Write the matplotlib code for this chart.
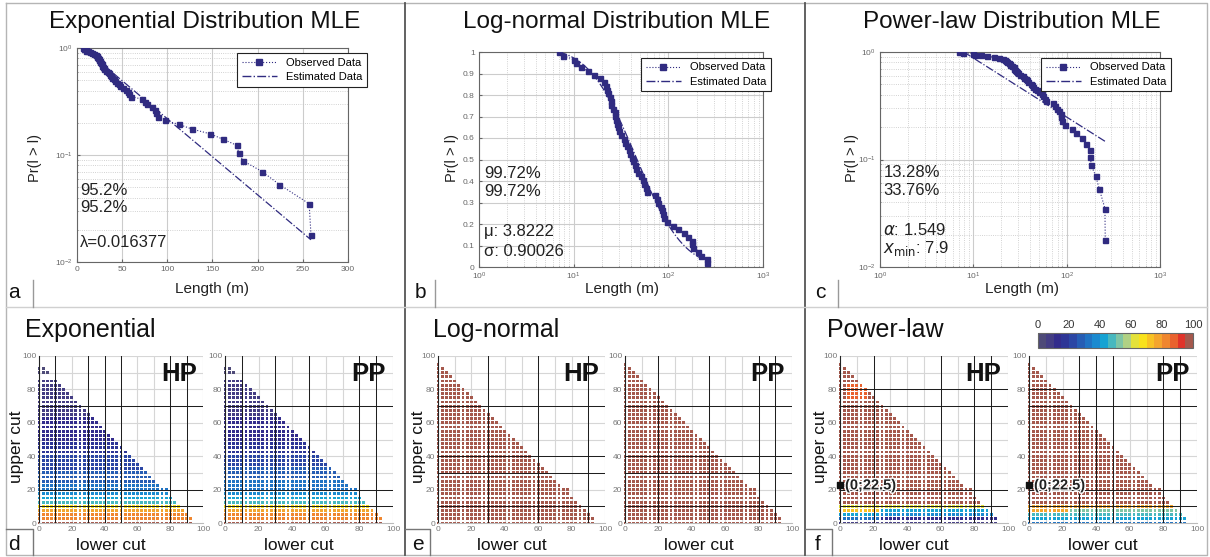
import math
import numpy as np
import matplotlib
matplotlib.use("Agg")
import matplotlib.pyplot as plt
from matplotlib.colors import ListedColormap, Normalize
from matplotlib.cm import ScalarMappable
from matplotlib.lines import Line2D
import matplotlib.patheffects as pe

plt.rcParams['font.family'] = ['Liberation Sans', 'DejaVu Sans']
plt.rcParams['mathtext.fontset'] = 'dejavusans'

# ---------------- data ----------------
lengths_m = [7, 7.8, 10, 10.5, 12, 14, 16.5, 19, 21, 22, 22.5, 23, 24, 24.5, 25,
             26, 27, 27.5, 28, 29, 29.5, 30, 32, 34, 35, 37, 38, 39, 41, 42,
             44, 46, 48, 51, 54, 56, 58, 60, 72, 75, 78, 83, 86, 88, 90,
             97, 113, 127, 147, 162, 177, 179, 184, 205, 224, 257, 259]
pr_observed = [1.000, 0.982, 0.965, 0.947, 0.930, 0.912, 0.895, 0.877, 0.860, 0.842,
               0.825, 0.807, 0.789, 0.772, 0.754, 0.737, 0.719, 0.702, 0.684, 0.667,
               0.649, 0.632, 0.614, 0.596, 0.579, 0.561, 0.544, 0.526, 0.509, 0.491,
               0.474, 0.456, 0.439, 0.421, 0.404, 0.386, 0.368, 0.351, 0.333, 0.316,
               0.298, 0.281, 0.263, 0.246, 0.228, 0.211, 0.193, 0.175, 0.158, 0.140,
               0.123, 0.105, 0.088, 0.070, 0.053, 0.035, 0.018]

lambda_exp = 0.016377
mu_ln = 3.8222
sigma_ln = 0.90026
alpha_pl = 1.549
xmin_pl = 7.9

pct_exp = ['95.2%', '95.2%']
pct_ln = ['99.72%', '99.72%']
pct_pl = ['13.28%', '33.76%']

cut_step = 2.5
upper_cuts = [0, 2.5, 5, 7.5, 10, 12.5, 15, 17.5, 20, 22.5, 25, 27.5, 30, 32.5,
              35, 37.5, 40, 42.5, 45, 47.5, 50, 52.5, 55, 57.5, 60, 62.5, 65,
              67.5, 70, 72.5, 75, 77.5, 80, 82.5, 85, 87.5, 90, 92.5, 95]
row_max_lower = [92.5, 92.5, 90, 87.5, 85, 82.5, 80, 77.5, 77.5, 72.5, 70, 67.5, 65,
                 62.5, 60, 57.5, 55, 52.5, 50, 47.5, 45, 42.5, 40, 37.5, 35, 32.5,
                 30, 27.5, 25, 22.5, 20, 17.5, 15, 12.5, 10, 7.5, 5, 2.5, 0]
exp_row_max_lower = [92.5, 92.5, 90, 87.5, 85, 82.5, 80, 77.5, 77.5, 72.5, 70, 67.5, 65,
                     62.5, 60, 57.5, 55, 52.5, 50, 47.5, 45, 42.5, 40, 37.5, 35, 32.5,
                     30, 27.5, 25, 22.5, 20, 17.5, 15, 12.5, 10, -1, 5, 2.5, -1]
exp_hp_values = [97, 82, 80, 78, 67, 46, 40, 37, 33, 31, 29, 27, 26, 24, 23, 21, 20, 18,
                 17, 15, 14, 13, 12, 11, 10, 10, 9, 9, 8, 8, 7, 7, 6, 6, 5, 5, 4, 4, 3]
exp_pp_values = [97, 84, 81, 79, 66, 47, 41, 38, 34, 32, 30, 28, 26, 25, 23, 22, 20, 19,
                 17, 16, 14, 13, 12, 11, 10, 10, 9, 9, 8, 8, 7, 7, 6, 6, 5, 5, 4, 4, 3]
lognormal_hp_value = 98
lognormal_pp_value = 98
pl_split_lower = 25
pl_hp_left = [8, 33, 42, 72, 63]      # rows 0 .. 10
pl_hp_right = [8, 12, 38, 40, 63]
pl_pp_left = [33, 40, 48, 76, 78]
pl_pp_right = [33, 40, 47, 52, 78]
pl_hp_upper_value = 96
pl_pp_upper_value = 97
pl_hp_patch = {'rows': (75, 82.5), 'lower': (5, 15), 'value': 88}
marked_point = (0, 22.5)

cmap_colors = ['#4e4a78', '#443d84', '#332c8c', '#2d3596', '#2b46a4', '#265db4',
               '#2073c3', '#1a8ad0', '#16a3d3', '#48b8bf', '#7fc5a5', '#b0d184',
               '#e4e23a', '#f9e21c', '#f8c224', '#f4a52d', '#ef862f', '#e9622e',
               '#e0332a', '#a5584c']

dark_lines = {
    'exp_hp': ([10, 30, 40, 50, 80, 90], [10, 20, 70]),
    'exp_pp': ([10, 30, 50, 80, 90], [10, 20, 70]),
    'ln_hp': ([30, 60, 90], [10, 30, 40, 70]),
    'ln_pp': ([20, 50, 80, 90], [10, 30, 40, 70]),
    'pl_hp': ([20, 60, 80, 90], [10, 20, 70, 80]),
    'pl_pp': ([30, 40, 50, 80, 90], [10, 20, 70, 80]),
}

# ---------------- figure ----------------
W, H = 1210, 557
fig = plt.figure(figsize=(W / 100, H / 100), dpi=100)
navy = '#302b80'


def px_axes(l, r, t, b, **kw):
    return fig.add_axes([l / W, 1 - b / H, (r - l) / W, (b - t) / H], **kw)


# overlay for separators
ov = fig.add_axes([0, 0, 1, 1])
ov.set_xlim(0, W)
ov.set_ylim(H, 0)
ov.axis('off')
ov.plot([6, 1207, 1207, 6, 6], [3, 3, 555, 555, 3], color='#b5b5b5', lw=1)
ov.plot([405, 405], [3, 555], color='#555555', lw=1.3)
ov.plot([805, 805], [3, 555], color='#555555', lw=1.3)
ov.plot([6, 1207], [307, 307], color='#d0d0d0', lw=1)
for x0, xb in [(6, 33), (405, 435), (805, 838)]:
    ov.plot([xb, xb], [280, 307], color='#999999', lw=1)
for x0, xb in [(6, 33), (405, 430), (805, 832)]:
    ov.plot([x0, xb, xb], [529, 529, 555], color='#777777', lw=1)

for x, y, s in [(14, 292, 'a'), (420, 292, 'b'), (820, 292, 'c'),
                (14, 544, 'd'), (418, 544, 'e'), (818, 544, 'f')]:
    ov.text(x, y, s, fontsize=15, ha='center', va='center', color='#111')

# ---------------- top row ----------------
axA = px_axes(77, 348, 48, 262)
axB = px_axes(479, 763, 52, 267)
axC = px_axes(880, 1160, 52, 267)

x_exp = np.linspace(lengths_m[0], lengths_m[-1], 100)
y_exp = np.exp(-lambda_exp * (x_exp - lengths_m[0]))
x_ln = np.geomspace(lengths_m[0], lengths_m[-1], 200)


def surv_ln(x):
    return 0.5 * math.erfc((math.log(x) - mu_ln) / (sigma_ln * math.sqrt(2)))


y_ln = np.array([surv_ln(v) for v in x_ln]) / surv_ln(lengths_m[0])
x_pl = np.geomspace(xmin_pl, lengths_m[-1], 100)
y_pl = (x_pl / xmin_pl) ** (1 - alpha_pl)

for ax, xe, ye in [(axA, x_exp, y_exp), (axB, x_ln, y_ln), (axC, x_pl, y_pl)]:
    ax.plot(lengths_m, pr_observed, ls=':', lw=0.8, color=navy, marker='s',
            ms=3.6, mec=navy, mfc=navy, zorder=3)
    ax.plot(xe, ye, ls='-.', lw=0.9, color=navy, zorder=4)
    for sp in ax.spines.values():
        sp.set_color('#666666')
        sp.set_linewidth(0.8)
    ax.tick_params(which='both', labelsize=6, colors='#666666', direction='in',
                   length=2, pad=3)
    ax.tick_params(which='minor', length=1)
    ax.grid(True, which='major', color='#cccccc', lw=0.8, ls='-')
    ax.grid(True, which='minor', color='#c4c4c4', lw=0.6, ls=':')
    ax.set_axisbelow(True)
    handles = [Line2D([], [], ls=':', lw=0.8, color=navy, marker='s', ms=5),
               Line2D([], [], ls='-.', lw=1.0, color=navy)]
    leg = ax.legend(handles, ['Observed Data', 'Estimated Data'], loc='upper right',
                    fontsize=8, frameon=True, fancybox=False, framealpha=1,
                    edgecolor='#222222', handlelength=3.2, borderpad=0.4,
                    labelspacing=0.4, borderaxespad=0)
    leg.get_frame().set_linewidth(0.8)
    leg.set_zorder(10)

axA.set_xlim(0, 300)
axA.set_yscale('log')
axA.set_ylim(0.01, 1)
axA.set_xticks([0, 50, 100, 150, 200, 250, 300])
axA.grid(False, which='minor', axis='x')
axA.legend_.set_bbox_to_anchor((1.07, 0.975), transform=axA.transAxes)

axB.set_xscale('log')
axB.set_xlim(1, 1000)
axB.set_ylim(0, 1)
axB.set_yticks(np.arange(0, 1.01, 0.1))
axB.set_yticklabels(['0', '0.1', '0.2', '0.3', '0.4', '0.5', '0.6', '0.7', '0.8', '0.9', '1'])
axB.grid(False, which='minor', axis='y')
axB.legend_.set_bbox_to_anchor((1.028, 0.972), transform=axB.transAxes)

axC.set_xscale('log')
axC.set_yscale('log')
axC.set_xlim(1, 1000)
axC.set_ylim(0.01, 1)
axC.legend_.set_bbox_to_anchor((1.039, 0.972), transform=axC.transAxes)

txt_kw = dict(fontsize=12, color='#222222', ha='left', va='center')
axA.text(0.012, 0.336, pct_exp[0], transform=axA.transAxes, **txt_kw)
axA.text(0.012, 0.257, pct_exp[1], transform=axA.transAxes, **txt_kw)
axA.text(0.012, 0.093, '\u03bb=%g' % lambda_exp, transform=axA.transAxes, **txt_kw)

axB.text(0.018, 0.437, pct_ln[0], transform=axB.transAxes, **txt_kw)
axB.text(0.018, 0.349, pct_ln[1], transform=axB.transAxes, **txt_kw)
axB.text(0.018, 0.163, '\u03bc: %g' % mu_ln, transform=axB.transAxes, **txt_kw)
axB.text(0.018, 0.072, '\u03c3: %g' % sigma_ln, transform=axB.transAxes, **txt_kw)

axC.text(0.012, 0.44, pct_pl[0], transform=axC.transAxes, **txt_kw)
axC.text(0.012, 0.358, pct_pl[1], transform=axC.transAxes, **txt_kw)
axC.text(0.012, 0.172, r'$\alpha$: %g' % alpha_pl, transform=axC.transAxes, **txt_kw)
axC.text(0.012, 0.088, r'$x_{\mathrm{min}}$: %g' % xmin_pl, transform=axC.transAxes, **txt_kw)

for x, s in [(205, 'Exponential Distribution MLE'), (617, 'Log-normal Distribution MLE'),
             (1012, 'Power-law Distribution MLE')]:
    ov.text(x, 22, s, fontsize=17.5, ha='center', va='center', color='#111')
for x in [212, 622, 1022]:
    ov.text(x, 289, 'Length (m)', fontsize=11, ha='center', va='center', color='#222')
for x in [35, 452, 852]:
    ov.text(x, 158, 'Pr(l > l)', fontsize=10.5, ha='center', va='center',
            rotation=90, color='#222')

# ---------------- bottom row ----------------
cmap = ListedColormap(cmap_colors)
norm = Normalize(0, 100)


def build_cells(row_max, value_of):
    xs, ys, vs = [], [], []
    for j, y in enumerate(upper_cuts):
        m = row_max[j]
        if m < 0:
            continue
        n = int(round(m / cut_step)) + 1
        for i in range(n):
            x = i * cut_step
            xs.append(x)
            ys.append(y)
            vs.append(value_of(x, y, j))
    return xs, ys, vs


def pl_value(bottom_left, bottom_right, upper_value, patch=None):
    def f(x, y, j):
        if j < len(bottom_left):
            return bottom_left[j] if x < pl_split_lower else bottom_right[j]
        if patch and patch['rows'][0] <= y <= patch['rows'][1] and \
                patch['lower'][0] <= x <= patch['lower'][1]:
            return patch['value']
        return upper_value
    return f


panels = [
    ('exp_hp', 39, 203, 'HP', exp_row_max_lower, lambda x, y, j: exp_hp_values[j]),
    ('exp_pp', 225, 393, 'PP', exp_row_max_lower, lambda x, y, j: exp_pp_values[j]),
    ('ln_hp', 438, 605, 'HP', row_max_lower, lambda x, y, j: lognormal_hp_value),
    ('ln_pp', 625, 792, 'PP', row_max_lower, lambda x, y, j: lognormal_pp_value),
    ('pl_hp', 840, 1008, 'HP', row_max_lower,
     pl_value(pl_hp_left, pl_hp_right, pl_hp_upper_value, pl_hp_patch)),
    ('pl_pp', 1029, 1197, 'PP', row_max_lower,
     pl_value(pl_pp_left, pl_pp_right, pl_pp_upper_value)),
]

for key, l, r, lab, rmax, vfun in panels:
    ax = px_axes(l, r, 356, 523)
    xs, ys, vs = build_cells(rmax, vfun)
    ax.scatter(xs, ys, c=vs, cmap=cmap, norm=norm, marker='s', s=4.2,
               linewidths=0, clip_on=False, zorder=2)
    ax.set_xlim(0, 100)
    ax.set_ylim(0, 100)
    ax.set_xticks(range(0, 101, 20))
    ax.set_yticks(range(0, 101, 20))
    ax.tick_params(labelsize=6, colors='#777777', length=0, pad=2)
    for v in range(10, 101, 10):
        ax.axvline(v, color='#d6d6d6', lw=0.8, zorder=0)
        ax.axhline(v, color='#d6d6d6', lw=0.8, zorder=0)
    dv, dh = dark_lines[key]
    for v in dv:
        ax.axvline(v, color='#1a1a1a', lw=0.7, zorder=3)
    for h in dh:
        ax.axhline(h, color='#1a1a1a', lw=0.7, zorder=3)
    ax.spines['top'].set_visible(False)
    ax.spines['right'].set_visible(False)
    ax.spines['left'].set_color('#222222')
    ax.spines['left'].set_linewidth(0.8)
    ax.spines['bottom'].set_color('#bbbbbb')
    ax.text(0.855, 0.895, lab, transform=ax.transAxes, fontsize=18.5,
            fontweight='bold', ha='center', va='center', color='#111', zorder=5)
    if key.startswith('pl'):
        ax.scatter([marked_point[0]], [marked_point[1]], marker='s', s=22,
                   color='#111111', clip_on=False, zorder=6)
        ax.text(marked_point[0] + 3, marked_point[1], '(%g;%g)' % marked_point,
                fontsize=10.5, fontweight='bold', ha='left', va='center',
                color='#222', zorder=6,
                path_effects=[pe.withStroke(linewidth=2, foreground='white')])
    ov.text((l + r) / 2 - 10, 545, 'lower cut', fontsize=12.5, ha='center',
            va='center', color='#111')

for x in [17, 418, 820]:
    ov.text(x, 447, 'upper cut', fontsize=12.5, ha='center', va='center',
            rotation=90, color='#111')
for x, s in [(25, 'Exponential'), (433, 'Log-normal'), (827, 'Power-law')]:
    ov.text(x, 330, s, fontsize=18, ha='left', va='center', color='#111')

cax = px_axes(1038, 1193, 333, 348)
cb = fig.colorbar(ScalarMappable(norm=norm, cmap=cmap), cax=cax,
                  orientation='horizontal', ticks=[0, 20, 40, 60, 80, 100])
cax.xaxis.set_ticks_position('top')
cax.tick_params(length=0, labelsize=8, colors='#333333', pad=2)
cb.outline.set_edgecolor('#666666')
cb.outline.set_linewidth(0.8)

fig.savefig('out.png', dpi=100)
